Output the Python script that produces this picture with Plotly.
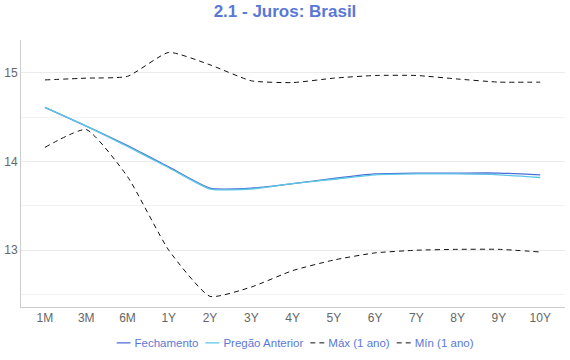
import plotly.graph_objects as go

categories = ["1M", "3M", "6M", "1Y", "2Y", "3Y", "4Y", "5Y", "6Y", "7Y", "8Y", "9Y", "10Y"]
fechamento = [14.61, 14.40, 14.18, 13.94, 13.70, 13.70, 13.75, 13.81, 13.86, 13.87, 13.87, 13.87, 13.85]
pregao_anterior = [14.61, 14.40, 14.17, 13.93, 13.69, 13.69, 13.75, 13.80, 13.85, 13.86, 13.86, 13.85, 13.82]
maximo = [14.92, 14.94, 14.96, 15.23, 15.09, 14.91, 14.89, 14.94, 14.97, 14.97, 14.93, 14.895, 14.895]
minimo = [14.16, 14.36, 13.83, 13.00, 12.48, 12.585, 12.77, 12.89, 12.97, 13.00, 13.01, 13.01, 12.98]

fig = go.Figure()
fig.add_trace(go.Scatter(x=categories, y=fechamento, name="Fechamento", mode="lines",
                         line=dict(color="#4a6ed6", width=1.3, shape="spline", smoothing=0.5)))
fig.add_trace(go.Scatter(x=categories, y=pregao_anterior, name="Pregão Anterior", mode="lines",
                         line=dict(color="#5cc6e6", width=1.3, shape="spline", smoothing=0.5)))
fig.add_trace(go.Scatter(x=categories, y=maximo, name="Máx (1 ano)", mode="lines",
                         line=dict(color="#111111", width=1, dash="5px,4px", shape="spline", smoothing=0.5)))
fig.add_trace(go.Scatter(x=categories, y=minimo, name="Mín (1 ano)", mode="lines",
                         line=dict(color="#111111", width=1, dash="5px,4px", shape="spline", smoothing=0.5)))

fig.update_layout(
    width=570, height=360,
    margin=dict(l=21, r=5, t=40, b=53, autoexpand=False),
    paper_bgcolor="white", plot_bgcolor="white",
    font=dict(family="Liberation Sans, Arial, sans-serif", size=12, color="#666666"),
    title=dict(text="<b>2.1 - Juros: Brasil</b>", x=0.5, xanchor="center", y=0.985, yanchor="top",
               font=dict(size=17, color="#5a78d6")),
    showlegend=True,
    legend=dict(orientation="h", x=0.5, xanchor="center", y=-0.08, yanchor="top",
                font=dict(size=11.5, color="#5a78d6"), itemwidth=30, tracegroupgap=0),
    xaxis=dict(range=[-0.58, 12.6], showgrid=False, showline=True, linecolor="#cccccc",
               linewidth=1, ticks="", tickfont=dict(size=12, color="#666666"), automargin=False),
    yaxis=dict(range=[12.36, 15.37], dtick=1, tick0=13, showgrid=True, gridcolor="#ebebeb",
               showline=True, linecolor="#cccccc", linewidth=1, ticks="", zeroline=False,
               minor=dict(dtick=0.5, showgrid=True, gridcolor="#f2f2f2"),
               tickfont=dict(size=12, color="#666666"), automargin=False),
)

post_js = """
document.body.style.margin='0';document.body.style.padding='0';
(function(){
  try {
    var gd = document.querySelector('.js-plotly-plot');
    var items = gd.querySelectorAll('.legend .traces');
    if (!items.length) return;
    var x = 0;
    items.forEach(function(it){
      var p = it.querySelector('.legendlines path');
      if (p) p.setAttribute('d', 'M0,0h14');
      var t = it.querySelector('.legendtext');
      t.setAttribute('x', 18);
      var w = t.getComputedTextLength();
      var tr = it.getAttribute('transform') || '';
      var m = tr.match(/translate\\(([-\\d.e]+)[ ,]+([-\\d.e]+)\\)/);
      var y = m ? parseFloat(m[2]) : 0;
      it.setAttribute('transform', 'translate(' + x + ',' + y + ')');
      x += 18 + w + 7;
    });
    var total = x - 7;
    var leg = gd.querySelector('.legend');
    var ltr = leg.getAttribute('transform') || '';
    var lm = ltr.match(/translate\\(([-\\d.e]+)[ ,]+([-\\d.e]+)\\)/);
    var ly = lm ? parseFloat(lm[2]) : 0;
    leg.setAttribute('transform', 'translate(' + (295 - total / 2) + ',' + ly + ')');
  } catch (e) {}
})();
"""

fig.write_html("out.html", config={"displayModeBar": False}, post_script=post_js)
